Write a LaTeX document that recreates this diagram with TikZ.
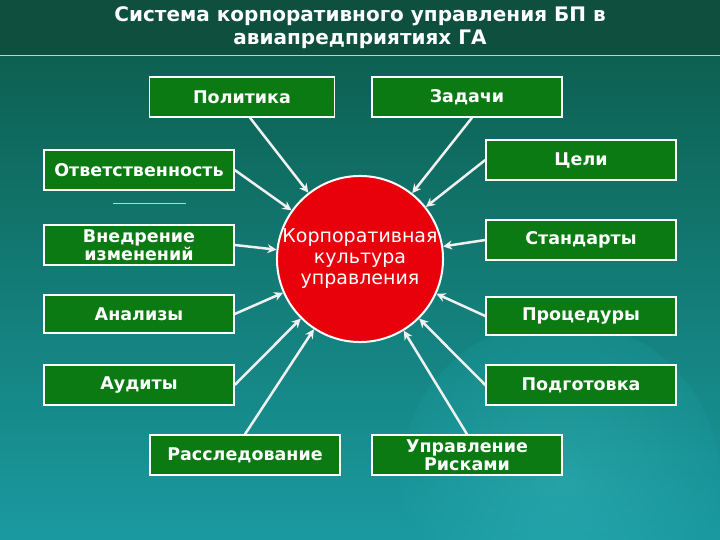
\documentclass[tikz,border=0pt]{standalone}
\usepackage{fontspec}
\setmainfont{DejaVu Sans}
\usetikzlibrary{arrows.meta}
\definecolor{boxg}{HTML}{0B7A12}
\definecolor{circr}{HTML}{E8000A}
\definecolor{bgtop}{HTML}{0B5A48}
\definecolor{bgbot}{HTML}{1A9AA0}
\definecolor{titleb}{HTML}{0E4F3E}
\tikzset{
 box/.style={draw=white,line width=1.5pt,fill=boxg,text=white,font=\bfseries\fontsize{17.5}{18}\selectfont,align=center,minimum width=190pt,minimum height=40pt,inner sep=1pt},
 arr/.style={draw=white!88!gray,line width=2.5pt,-{Stealth[length=9pt,width=9pt]}}
}
\begin{document}
\begin{tikzpicture}[x=1pt,y=-1pt]
\useasboundingbox (0,0) rectangle (720,540);
\shade[top color=bgtop,bottom color=bgbot] (0,0) rectangle (720,540);
\shade[inner color=bgbot!70!cyan!80!white,outer color=bgbot,opacity=0.3] (560,480) circle (160);
\fill[titleb] (0,0) rectangle (720,56);
\draw[white!70!teal,line width=1pt] (0,56) -- (720,56);
\node[text=white,font=\bfseries\fontsize{20}{23}\selectfont,align=center] (title) at (360,28) {Система корпоративного управления БП в\\авиапредприятиях ГА};
\node[draw=white,line width=2pt,fill=circr,circle,minimum size=164pt,text=white,font=\fontsize{19}{21}\selectfont,align=center,inner sep=0pt] (c) at (360,259) {Корпоративная\\культура\\управления};
\node[box,minimum width=185pt] (p1) at (242,97) {Политика};
\node[box] (z) at (467,97) {Задачи};
\node[box] (o) at (139,170) {Ответственность};
\node[box] (ce) at (581,160) {Цели};
\node[box] (v) at (139,245) {Внедрение\\изменений};
\node[box] (s) at (581,240) {Стандарты};
\node[box,minimum height=38pt] (a) at (139,314) {Анализы};
\node[box,minimum height=38pt] (pr) at (581,316) {Процедуры};
\node[box] (au) at (139,385) {Аудиты};
\node[box] (pd) at (581,385) {Подготовка};
\node[box] (r) at (245,455) {Расследование};
\node[box] (u) at (467,455) {Управление\\Рисками};
\draw[white!70!teal,line width=1pt] (113,204) -- (186,204);
\draw[arr] (p1.south) ++(8,0) -- (c);
\draw[arr] (z.south) ++(5,0) -- (c);
\draw[arr] (o.east) -- (c);
\draw[arr] (ce.west) -- (c);
\draw[arr] (v.east) -- (c);
\draw[arr] (s.west) -- (c);
\draw[arr] (a.east) -- (c);
\draw[arr] (pr.west) -- (c);
\draw[arr] (au.east) -- (c);
\draw[arr] (pd.west) -- (c);
\draw[arr] (r.north) -- (c);
\draw[arr] (u.north) -- (c);
\end{tikzpicture}
\end{document}
